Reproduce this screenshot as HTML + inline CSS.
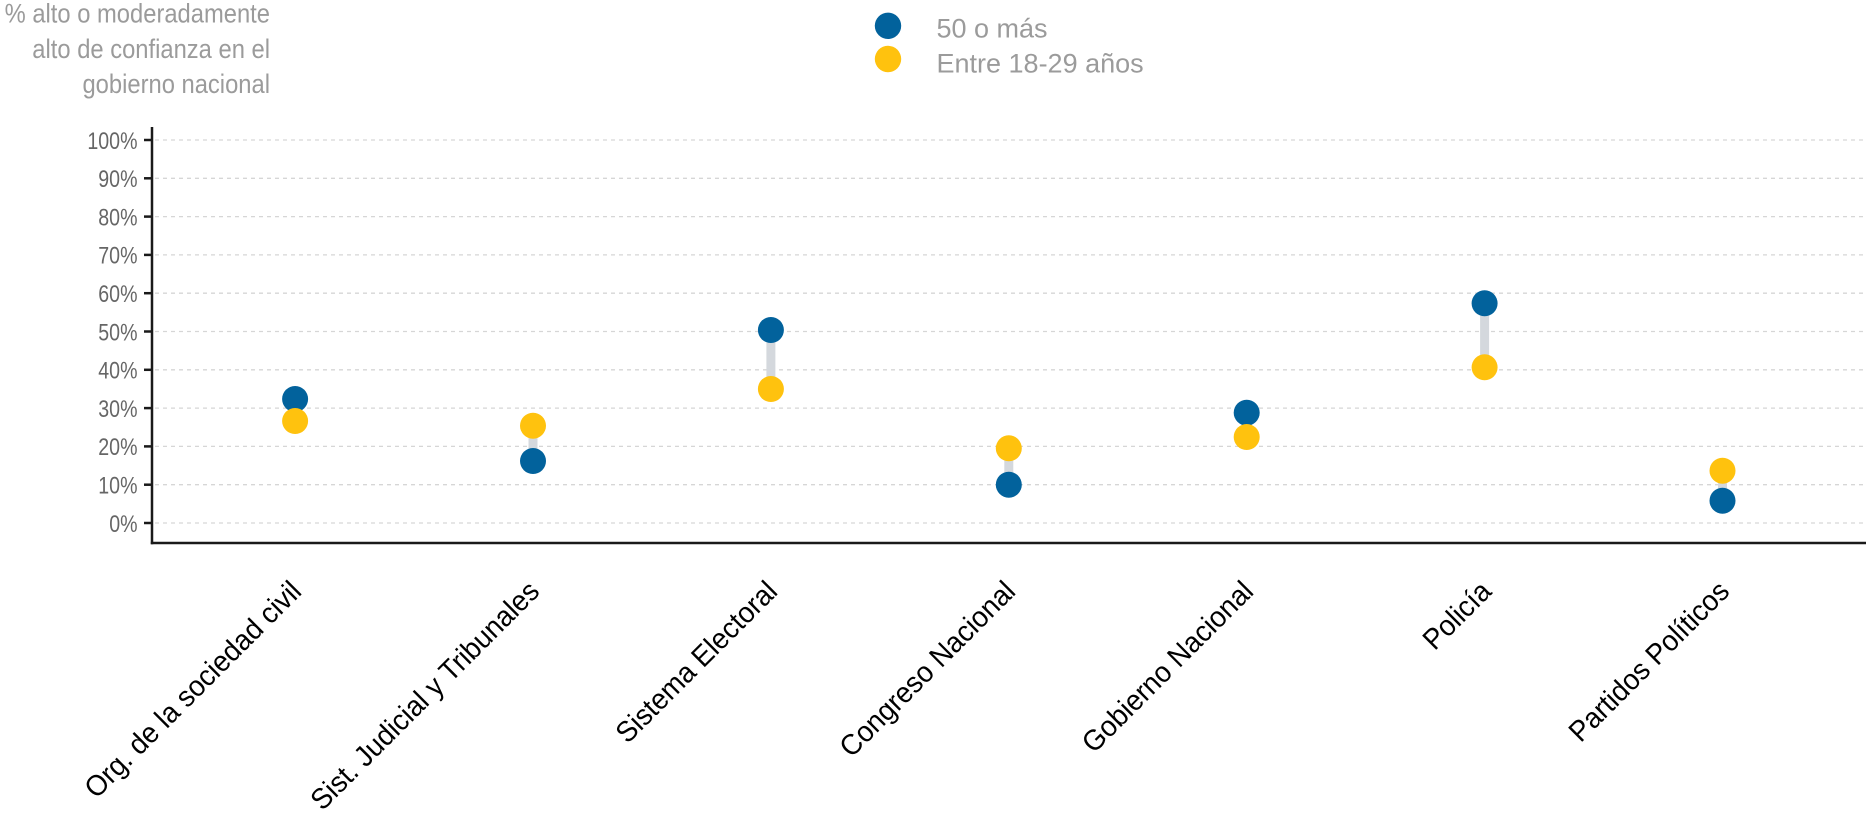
<!DOCTYPE html>
<html>
<head>
<meta charset="utf-8">
<style>
  html, body { margin: 0; padding: 0; background: #ffffff; }
  svg { display: block; }
  text { font-family: "Liberation Sans", Arial, sans-serif; }
</style>
</head>
<body>
<svg width="1872" height="829" viewBox="0 0 1872 829" xmlns="http://www.w3.org/2000/svg">
  <rect x="0" y="0" width="1872" height="829" fill="#ffffff"/>

  <!-- Title -->
  <g fill="#9b9b9b" font-size="24" text-anchor="end">
    <text transform="translate(270,22.5) scale(0.99,1.12)">% alto o moderadamente</text>
    <text transform="translate(270,58) scale(0.99,1.12)">alto de confianza en el</text>
    <text transform="translate(270,93) scale(0.99,1.12)">gobierno nacional</text>
  </g>

  <!-- Legend -->
  <circle cx="888" cy="25.8" r="13.2" fill="#02629c"/>
  <circle cx="888" cy="59" r="13.2" fill="#ffc20e"/>
  <g fill="#9b9b9b" font-size="27">
    <text x="936.5" y="37.5">50 o más</text>
    <text x="936.5" y="72.5">Entre 18-29 años</text>
  </g>

  <!-- Gridlines -->
  <g stroke="#d6d6d6" stroke-width="1.3" stroke-dasharray="4 4">
    <line x1="155" y1="140" x2="1866" y2="140"/>
    <line x1="155" y1="178.3" x2="1866" y2="178.3"/>
    <line x1="155" y1="216.6" x2="1866" y2="216.6"/>
    <line x1="155" y1="254.9" x2="1866" y2="254.9"/>
    <line x1="155" y1="293.2" x2="1866" y2="293.2"/>
    <line x1="155" y1="331.5" x2="1866" y2="331.5"/>
    <line x1="155" y1="369.8" x2="1866" y2="369.8"/>
    <line x1="155" y1="408.1" x2="1866" y2="408.1"/>
    <line x1="155" y1="446.4" x2="1866" y2="446.4"/>
    <line x1="155" y1="484.7" x2="1866" y2="484.7"/>
    <line x1="155" y1="523" x2="1866" y2="523"/>
  </g>

  <!-- Axes -->
  <g stroke="#1a1a1a" stroke-width="2.5" fill="none">
    <line x1="152" y1="127" x2="152" y2="544.2"/>
    <line x1="150.8" y1="543" x2="1866" y2="543"/>
    <line x1="144" y1="140" x2="152" y2="140"/>
    <line x1="144" y1="178.3" x2="152" y2="178.3"/>
    <line x1="144" y1="216.6" x2="152" y2="216.6"/>
    <line x1="144" y1="254.9" x2="152" y2="254.9"/>
    <line x1="144" y1="293.2" x2="152" y2="293.2"/>
    <line x1="144" y1="331.5" x2="152" y2="331.5"/>
    <line x1="144" y1="369.8" x2="152" y2="369.8"/>
    <line x1="144" y1="408.1" x2="152" y2="408.1"/>
    <line x1="144" y1="446.4" x2="152" y2="446.4"/>
    <line x1="144" y1="484.7" x2="152" y2="484.7"/>
    <line x1="144" y1="523" x2="152" y2="523"/>
  </g>

  <!-- Y tick labels -->
  <g fill="#666666" font-size="24.5" text-anchor="end">
    <text transform="translate(137.5,148.8) scale(0.8,1)">100%</text>
    <text transform="translate(137.5,187.1) scale(0.8,1)">90%</text>
    <text transform="translate(137.5,225.4) scale(0.8,1)">80%</text>
    <text transform="translate(137.5,263.7) scale(0.8,1)">70%</text>
    <text transform="translate(137.5,302) scale(0.8,1)">60%</text>
    <text transform="translate(137.5,340.3) scale(0.8,1)">50%</text>
    <text transform="translate(137.5,378.6) scale(0.8,1)">40%</text>
    <text transform="translate(137.5,416.9) scale(0.8,1)">30%</text>
    <text transform="translate(137.5,455.2) scale(0.8,1)">20%</text>
    <text transform="translate(137.5,493.5) scale(0.8,1)">10%</text>
    <text transform="translate(137.5,531.8) scale(0.8,1)">0%</text>
  </g>

  <!-- Connectors -->
  <g stroke="#d4d8dd" stroke-width="9">
    <line x1="295.1" y1="399" x2="295.1" y2="421"/>
    <line x1="533" y1="461" x2="533" y2="425.7"/>
    <line x1="770.9" y1="330" x2="770.9" y2="389"/>
    <line x1="1008.8" y1="484.7" x2="1008.8" y2="448.3"/>
    <line x1="1246.7" y1="412.7" x2="1246.7" y2="437"/>
    <line x1="1484.6" y1="303.3" x2="1484.6" y2="367.3"/>
    <line x1="1722.5" y1="500.7" x2="1722.5" y2="470.7"/>
  </g>

  <!-- 50 o más (blue) -->
  <g fill="#02629c">
    <circle cx="295.1" cy="399" r="13"/>
    <circle cx="533" cy="461" r="13"/>
    <circle cx="770.9" cy="330" r="13"/>
    <circle cx="1008.8" cy="484.7" r="13"/>
    <circle cx="1246.7" cy="412.7" r="13"/>
    <circle cx="1484.6" cy="303.3" r="13"/>
    <circle cx="1722.5" cy="500.7" r="13"/>
  </g>

  <!-- 18-29 (yellow) -->
  <g fill="#ffc20e">
    <circle cx="295.1" cy="421" r="13"/>
    <circle cx="533" cy="425.7" r="13"/>
    <circle cx="770.9" cy="389" r="13"/>
    <circle cx="1008.8" cy="448.3" r="13"/>
    <circle cx="1246.7" cy="437" r="13"/>
    <circle cx="1484.6" cy="367.3" r="13"/>
    <circle cx="1722.5" cy="470.7" r="13"/>
  </g>

  <!-- X labels -->
  <g fill="#000000" font-size="29" text-anchor="end">
    <text transform="translate(303,593) rotate(-45) scale(0.95,1)">Org. de la sociedad civil</text>
    <text transform="translate(541,593) rotate(-45) scale(0.95,1)">Sist. Judicial y Tribunales</text>
    <text transform="translate(779,593) rotate(-45) scale(0.95,1)">Sistema Electoral</text>
    <text transform="translate(1017,593) rotate(-45) scale(0.95,1)">Congreso Nacional</text>
    <text transform="translate(1255,593) rotate(-45) scale(0.95,1)">Gobierno Nacional</text>
    <text transform="translate(1493,593) rotate(-45) scale(0.95,1)">Policía</text>
    <text transform="translate(1731,593) rotate(-45) scale(0.95,1)">Partidos Políticos</text>
  </g>
</svg>
</body>
</html>
